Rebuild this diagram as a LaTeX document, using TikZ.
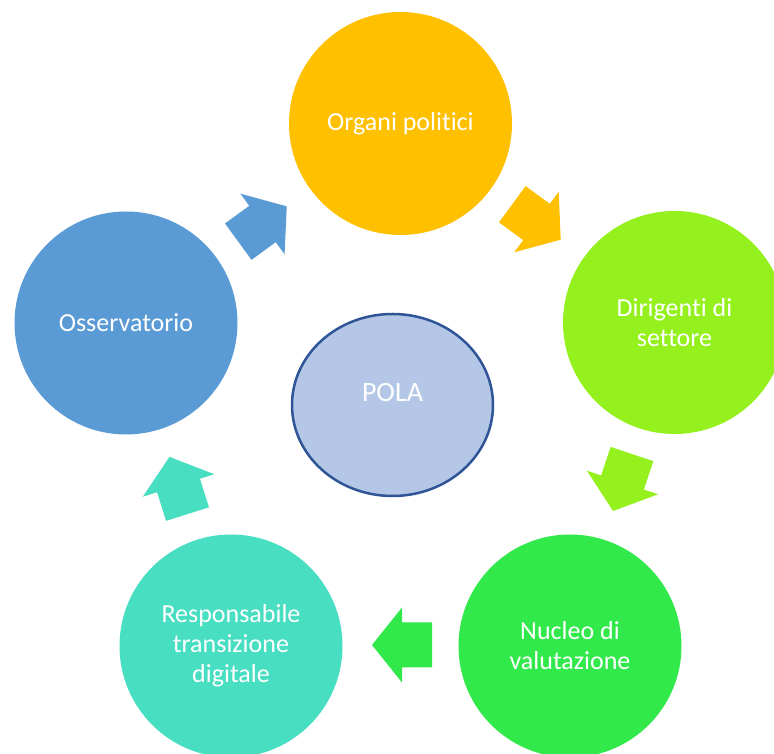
\documentclass[tikz,border=0pt]{standalone}
\usepackage{fontspec}
\setmainfont{Carlito}[Ligatures={NoCommon}]
\usetikzlibrary{shapes.geometric}
\definecolor{corange}{HTML}{FFC000}
\definecolor{clime}{HTML}{94F11D}
\definecolor{cgreen}{HTML}{31E94B}
\definecolor{cteal}{HTML}{48DEC2}
\definecolor{cblue}{HTML}{5B9BD5}
\definecolor{cpola}{HTML}{B4C7E7}
\definecolor{cpolaedge}{HTML}{2F5597}
\tikzset{
  stage/.style={circle, minimum size=223pt, inner sep=0pt, text=white, align=center,
    font=\fontsize{26}{30}\selectfont},
  blockarrow/.pic={\fill (-30,22.5) -- (0,22.5) -- (0,37.5) -- (30,0) -- (0,-37.5) -- (0,-22.5) -- (-30,-22.5) -- cycle;}
}
\begin{document}
\begin{tikzpicture}[x=1pt,y=1pt]
\useasboundingbox (0,0) rectangle (774,754);
\clip (0,0) rectangle (774,754);
\fill[white] (0,0) rectangle (774,754);
\node[stage, fill=corange] (organi) at (400.5,630.5) {Organi politici};
\node[stage, fill=clime] (dirigenti) at (674.5,431.5) {Dirigenti di\\settore};
\node[stage, fill=cgreen] (nucleo) at (570,108) {Nucleo di\\valutazione};
\node[stage, fill=cteal] (resp) at (231,108) {Responsabile\\transizione\\digitale};
\node[stage, fill=cblue] (oss) at (126,431) {Osservatorio};
\node[ellipse, fill=cpola, draw=cpolaedge, line width=2.5pt, minimum width=201pt, minimum height=182pt, inner sep=0pt] (pola) at (392.5,349) {};
\node[text=white, font=\fontsize{28}{32}\selectfont] (polatext) at (392.5,361) {POLA};
\pic[fill=corange, rotate=-36.3] at (536.5,532) {blockarrow};
\pic[fill=clime, rotate=-108.4] at (622.5,271.5) {blockarrow};
\pic[fill=cgreen, rotate=180] at (402,109) {blockarrow};
\pic[fill=cteal, rotate=107.5] at (178.5,268.5) {blockarrow};
\pic[fill=cblue, rotate=36.1] at (262.5,530) {blockarrow};
\end{tikzpicture}
\end{document}
